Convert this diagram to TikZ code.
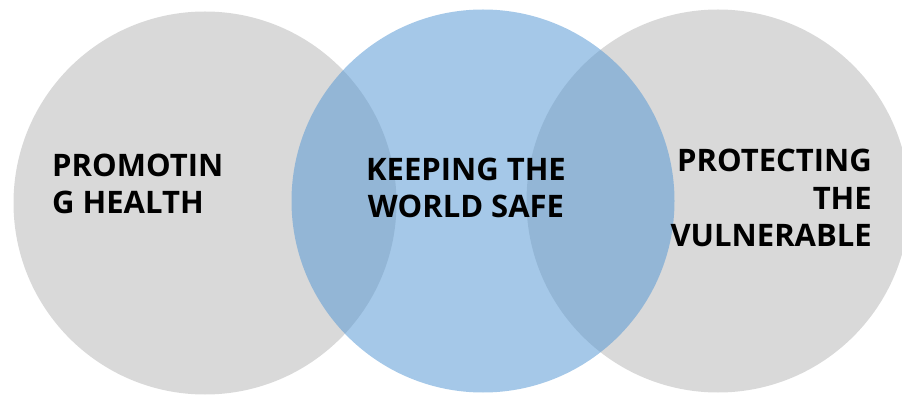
\documentclass[tikz,border=0pt]{standalone}
\usepackage{fontspec}
\setmainfont{Open Sans}
\usetikzlibrary{positioning}
\definecolor{venngray}{HTML}{D9D9D9}
\definecolor{vennblue}{HTML}{5B9BD5}

\begin{document}
\begin{tikzpicture}[x=1pt,y=-1pt,
  ring/.style={circle,minimum size=383pt,inner sep=0pt},
  venntext/.style={inner sep=0pt,text=black,font=\fontsize{31}{37.5}\selectfont\bfseries}
]
\path[use as bounding box,clip] (0,0) rectangle (902,395);
\node[ring,fill=venngray] (health) at (205,203) {};
\node[ring,fill=venngray] (vulnerable) at (718,201) {};
\node[ring,fill=vennblue,fill opacity=0.55] (safe) at (483,201) {};
\node[venntext,align=left,anchor=base west] (healthtext) at (52,214) {PROMOTIN\\G HEALTH};
\node[venntext,align=center,anchor=base] (safetext) at (466,218) {KEEPING THE\\WORLD SAFE};
\node[venntext,align=right,anchor=base east] (vulnerabletext) at (872,247) {PROTECTING\\THE\\VULNERABLE};
\end{tikzpicture}
\end{document}
